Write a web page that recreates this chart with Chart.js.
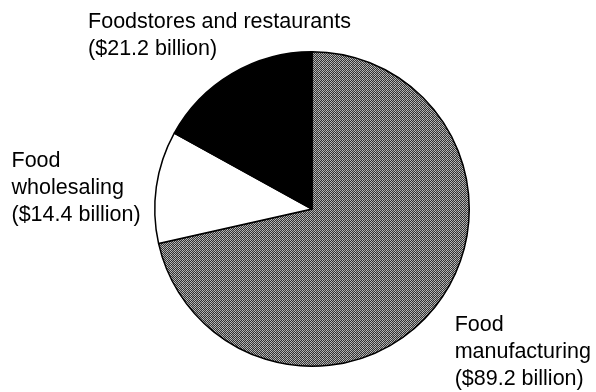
<!DOCTYPE html>
<html>
<head>
<meta charset="utf-8">
<script src="https://cdn.jsdelivr.net/npm/chart.js@4/dist/chart.umd.min.js"></script>
<style>
  html, body { margin: 0; padding: 0; background: #fff; }
  #wrap { width: 596px; height: 392px; position: relative; }
</style>
</head>
<body>
<div id="wrap"><canvas id="c" width="596" height="392"></canvas></div>
<script>
// Food marketing value added by sector, billions of dollars
const categories = ['Food manufacturing', 'Food wholesaling', 'Foodstores and restaurants'];
const values = [89.2, 14.4, 21.2];
const labelLines = [
  ['Food', 'manufacturing', '($89.2 billion)'],
  ['Food', 'wholesaling', '($14.4 billion)'],
  ['Foodstores and restaurants', '($21.2 billion)']
];

// Halftone-style grey fill built as a small repeating pixel pattern
function ditherPattern() {
  const p = document.createElement('canvas');
  p.width = 4; p.height = 4;
  const g = p.getContext('2d');
  const dark = ['#2e2e2e', '#3a3a3a'];
  const light = ['#a4a4a4', '#bcbcbc'];
  for (let y = 0; y < 4; y++) {
    for (let x = 0; x < 4; x++) {
      const isLight = (x + y) % 2 === 0;
      g.fillStyle = isLight ? light[(x >> 1) % 2] : dark[(y >> 1) % 2];
      g.fillRect(x, y, 1, 1);
    }
  }
  return g.createPattern(p, 'repeat');
}

const ctx = document.getElementById('c').getContext('2d');

// Text placement for each slice, as offsets from the pie centre in units of its radius
const labelAnchors = [
  { dx: 0.907, dy: 0.778 },
  { dx: -1.911, dy: -0.266 },
  { dx: -1.424, dy: -1.152 }
];

const sliceLabels = {
  id: 'sliceLabels',
  afterDatasetsDraw(chart) {
    const meta = chart.getDatasetMeta(0);
    const c = chart.ctx;
    c.save();
    c.fillStyle = '#000';
    c.font = '21.5px "Liberation Sans", Arial, Helvetica, sans-serif';
    c.textAlign = 'left';
    c.textBaseline = 'alphabetic';
    meta.data.forEach((arc, i) => {
      const r = arc.outerRadius;
      const x0 = arc.x + labelAnchors[i].dx * r;
      const y0 = arc.y + labelAnchors[i].dy * r;
      labelLines[i].forEach((line, k) => c.fillText(line, x0, y0 + k * 27));
    });
    c.restore();
  }
};

new Chart(ctx, {
  type: 'pie',
  data: {
    labels: categories,
    datasets: [{
      data: values,
      backgroundColor: [ditherPattern(), '#ffffff', '#000000'],
      borderColor: '#000000',
      borderWidth: 1.5
    }]
  },
  options: {
    responsive: false,
    animation: false,
    events: [],
    layout: { padding: { top: 51, bottom: 25, left: 154, right: 126 } },
    plugins: {
      legend: { display: false },
      tooltip: { enabled: false }
    }
  },
  plugins: [sliceLabels]
});
</script>
</body>
</html>
